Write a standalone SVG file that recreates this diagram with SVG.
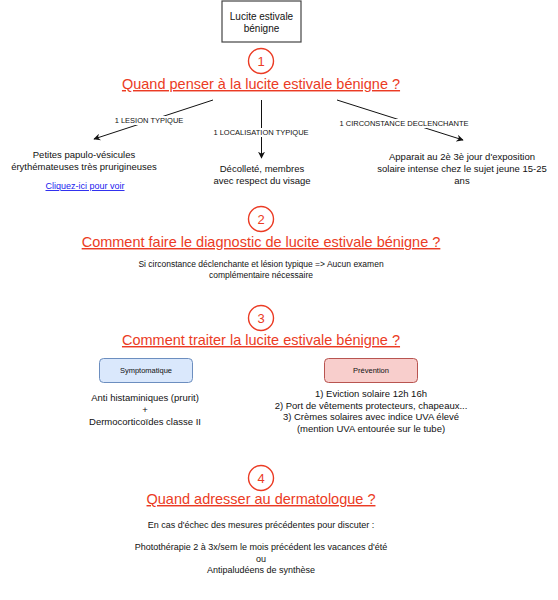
<svg xmlns="http://www.w3.org/2000/svg" width="558" height="600" viewBox="0 0 558 600">
<defs>
<style>
text{font-family:"Liberation Sans",Arial,Helvetica,sans-serif;fill:#111;text-anchor:middle}
.h{font-size:14.5px;fill:#EB3B24;text-decoration:underline}
.n{font-size:13px;fill:#EB3B24}
.c{fill:#fff;stroke:#EB3B24;stroke-width:1.4}
.b{font-size:9.5px}
.s{font-size:8.5px}
.t{font-size:9px}
.l{font-size:7.5px}
.e{stroke:#111;stroke-width:1;fill:none}
.lk{font-size:9px;fill:#1a1aee;text-decoration:underline}
</style>
<marker id="ar" viewBox="0 0 10 10" refX="9" refY="5" markerWidth="7" markerHeight="7" orient="auto" markerUnits="userSpaceOnUse">
<path d="M0,0 L10,5 L0,10 L3,5 Z" fill="#111"/>
</marker>
</defs>
<rect width="558" height="600" fill="#fff"/>

<g id="title">
<rect x="222" y="1" width="79" height="41" fill="#fff" stroke="#444" stroke-width="1.2"/>
<text class="b" x="261.5" y="20" style="font-size:10px">Lucite estivale</text>
<text class="b" x="261.5" y="32" style="font-size:10px">bénigne</text>
</g>

<g id="sec1">
<circle class="c" cx="261" cy="61" r="12.5"/>
<text class="n" x="261" y="65.5">1</text>
<text class="h" x="261" y="89">Quand penser à la lucite estivale bénigne ?</text>
</g>

<g id="connectors">
<line class="e" x1="213" y1="100" x2="94" y2="139" marker-end="url(#ar)"/>
<line class="e" x1="261.5" y1="100" x2="261.5" y2="158" marker-end="url(#ar)"/>
<line class="e" x1="337" y1="100" x2="463" y2="140" marker-end="url(#ar)"/>
<rect x="113" y="116" width="72" height="9" fill="#fff"/>
<text class="l" x="149" y="123">1 LESION TYPIQUE</text>
<rect x="211" y="128" width="100" height="9" fill="#fff"/>
<text class="l" x="261" y="135">1 LOCALISATION TYPIQUE</text>
<rect x="342" y="119" width="124" height="9" fill="#fff"/>
<text class="l" x="404" y="126">1 CIRCONSTANCE DECLENCHANTE</text>
</g>

<g id="lesion">
<text class="b" x="84" y="158">Petites papulo-vésicules</text>
<text class="b" x="84" y="170">érythémateuses très prurigineuses</text>
<text class="lk" x="85" y="189">Cliquez-ici pour voir</text>
</g>

<g id="localisation">
<text class="b" x="262" y="172">Décolleté, membres</text>
<text class="b" x="262" y="184">avec respect du visage</text>
</g>

<g id="circonstance">
<text class="b" x="462" y="160">Apparait au 2è 3è jour d'exposition</text>
<text class="b" x="462" y="172">solaire intense chez le sujet jeune 15-25</text>
<text class="b" x="462" y="184">ans</text>
</g>

<g id="sec2">
<circle class="c" cx="261" cy="219" r="12.5"/>
<text class="n" x="261" y="223.5">2</text>
<text class="h" x="261" y="247">Comment faire le diagnostic de lucite estivale bénigne ?</text>
<text class="s" x="261" y="267">Si circonstance déclenchante et lésion typique =&gt; Aucun examen</text>
<text class="s" x="261" y="278">complémentaire nécessaire</text>
</g>

<g id="sec3">
<circle class="c" cx="261" cy="318" r="12.5"/>
<text class="n" x="261" y="322.5">3</text>
<text class="h" x="261" y="345">Comment traiter la lucite estivale bénigne ?</text>
</g>

<g id="symptomatique">
<rect x="99.5" y="358.5" width="93" height="24" rx="4" fill="#dae8fc" stroke="#6c8ebf"/>
<text class="l" x="146" y="373">Symptomatique</text>
<text class="b" x="145" y="401">Anti histaminiques (prurit)</text>
<text class="b" x="145" y="413">+</text>
<text class="b" x="145" y="425">Dermocorticoïdes classe II</text>
</g>

<g id="prevention">
<rect x="324.5" y="358.5" width="93" height="24" rx="4" fill="#f8cecc" stroke="#b85450"/>
<text class="l" x="371" y="373">Prévention</text>
<text class="b" x="371" y="397">1) Eviction solaire 12h 16h</text>
<text class="b" x="371" y="408.5">2) Port de vêtements protecteurs, chapeaux...</text>
<text class="b" x="371" y="420">3) Crèmes solaires avec indice UVA élevé</text>
<text class="b" x="371" y="431.5">(mention UVA entourée sur le tube)</text>
</g>

<g id="sec4">
<circle class="c" cx="261" cy="478" r="12.5"/>
<text class="n" x="261" y="482.5">4</text>
<text class="h" x="261" y="504">Quand adresser au dermatologue ? </text>
<text class="t" x="261" y="528">En cas d'échec des mesures précédentes pour discuter :</text>
<text class="t" x="261" y="550">Photothérapie 2 à 3x/sem le mois précédent les vacances d'été</text>
<text class="t" x="261" y="561.5">ou</text>
<text class="t" x="261" y="573">Antipaludéens de synthèse</text>
</g>
</svg>
